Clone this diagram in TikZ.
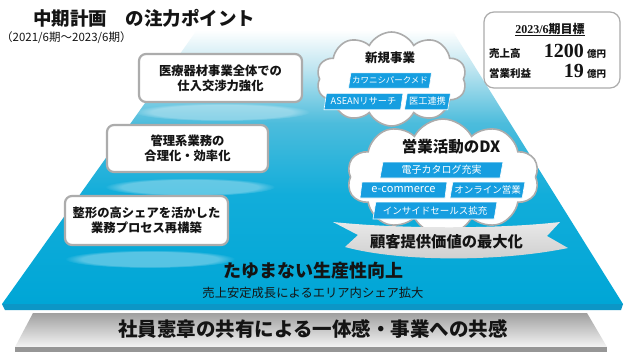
\documentclass[tikz,border=0pt]{standalone}
\usepackage{fontspec}
\setmainfont{Noto Sans CJK JP}
\newfontfamily\serifnum{Liberation Serif}
\usetikzlibrary{shapes.geometric,shapes.symbols,fadings}
\definecolor{labblue}{RGB}{22,158,224}
\definecolor{boxgray}{RGB}{172,172,172}
\definecolor{txt}{RGB}{20,20,20}
\definecolor{c0}{RGB}{0,166,214}
\definecolor{c1}{RGB}{18,173,218}
\definecolor{c2}{RGB}{76,188,220}
\definecolor{c3}{RGB}{191,229,240}
\definecolor{c4}{RGB}{12,150,198}
\definecolor{g0}{RGB}{160,160,160}
\definecolor{g1}{RGB}{212,212,212}
\definecolor{g2}{RGB}{244,244,244}
\definecolor{g3}{RGB}{150,150,150}
\definecolor{rib1}{RGB}{232,232,232}
\definecolor{rib2}{RGB}{206,206,206}
\pgfdeclareverticalshading{pyr}{100bp}{color(0bp)=(c0); color(25bp)=(c0); color(45bp)=(c1); color(58bp)=(c2); color(68bp)=(c3); color(75bp)=(white); color(100bp)=(white)}
\begin{document}
\begin{tikzpicture}[x=1pt,y=-1pt,
  box/.style={draw=boxgray, line width=2.2pt, rounded corners=7pt, fill=white,
    font=\bfseries\fontsize{12.3}{15}\selectfont, align=center, text=txt, inner sep=0pt},
  lab/.style={trapezium, trapezium left angle=72, trapezium right angle=108,
    trapezium stretches body, fill=labblue, draw=white, line width=0.6pt,
    text=white, inner sep=0pt, minimum height=15.5pt},
  cloudbox/.style={cloud, cloud puffs=10, cloud puff arc=125, aspect=1.6,
    cloud ignores aspect, draw=boxgray, line width=1.6pt, fill=white, inner sep=0pt},
  shadowband/.style={fill=white, opacity=0.32, path fading=circle with fuzzy edge 20 percent}
]
\useasboundingbox (0,0) rectangle (624,357);
\fill[white] (0,0) rectangle (624,357);
% gray base slab
\shade[top color=g0, middle color=g1, bottom color=g2] (33,313) -- (587,313) -- (607,347) -- (15,347) -- cycle;
\fill[g3] (15,347) -- (607,347) -- (607,352) -- (15,352) -- cycle;
% blue pyramid
\shade[shading=pyr] (197,30) -- (452,30) -- (623,304) -- (2,304) -- cycle;
\fill[c4] (2,304) -- (623,304) -- (621,310) -- (5,310) -- cycle;
% soft bands
\fill[shadowband] (222,112) ellipse [x radius=88, y radius=9];
\fill[shadowband] (190,187) ellipse [x radius=85, y radius=9];
\fill[shadowband] (150,259) ellipse [x radius=85, y radius=9];
% title
\node[anchor=base west, font=\bfseries\fontsize{18.5}{20}\selectfont, text=txt, inner sep=0pt] (title) at (33,25) {中期計画　の注力ポイント};
\node[anchor=base west, font=\fontsize{11.5}{12}\selectfont, text=txt, inner sep=0pt] (sub) at (1,41) {（2021/6期～2023/6期）};
% target box
\node[draw=boxgray, line width=1.2pt, rounded corners=10pt, fill=white, minimum width=136pt, minimum height=76pt] (tbox) at (552,50) {};
\node[anchor=base, font=\bfseries\fontsize{12}{12}\selectfont, text=txt, inner sep=0pt] (tg) at (550,33) {\underline{{\serifnum 2023/6}期目標}};
\node[anchor=base west, font=\bfseries\fontsize{10.5}{12}\selectfont, text=txt, inner sep=0pt] (r1) at (489,57) {売上高};
\node[anchor=base east, font=\serifnum\bfseries\fontsize{20}{20}\selectfont, text=txt, inner sep=0pt] (v1) at (584,57) {1200};
\node[anchor=base west, font=\bfseries\fontsize{9.5}{10}\selectfont, text=txt, inner sep=0pt] (u1) at (587,57) {億円};
\node[anchor=base west, font=\bfseries\fontsize{10.5}{12}\selectfont, text=txt, inner sep=0pt] (r2) at (489,77) {営業利益};
\node[anchor=base east, font=\serifnum\bfseries\fontsize{20}{20}\selectfont, text=txt, inner sep=0pt] (v2) at (584,77) {19};
\node[anchor=base west, font=\bfseries\fontsize{9.5}{10}\selectfont, text=txt, inner sep=0pt] (u2) at (587,77) {億円};
% left boxes
\node[box, minimum width=163pt, minimum height=48pt] (b1) at (220.5,78) {医療器材事業全体での\\仕入交渉力強化};
\node[box, minimum width=161pt, minimum height=47pt] (b2) at (187.5,148.5) {管理系業務の\\合理化・効率化};
\node[box, minimum width=163pt, minimum height=49pt] (b3) at (146.5,220.5) {整形の高シェアを活かした\\業務プロセス再構築};
% clouds
\node[cloudbox, minimum width=150pt, minimum height=94pt] (cl1) at (391.5,79) {};
\node[cloudbox, minimum width=192pt, minimum height=116pt] (cl2) at (443,177) {};
\node[font=\bfseries\fontsize{12.5}{13}\selectfont, text=txt] (cl1t) at (390,58) {新規事業};
\node[font=\bfseries\fontsize{15.5}{16}\selectfont, text=txt] (cl2t) at (451,147) {営業活動のDX};
\node[lab, minimum width=83pt, font=\fontsize{8.5}{9}\selectfont] (l1) at (390,80.5) {カワニシパークメド};
\node[lab, minimum width=79pt, minimum height=16.5pt, font=\fontsize{9.2}{9}\selectfont] (l2) at (363.5,101.5) {ASEANリサーチ};
\node[lab, minimum width=46pt, minimum height=16.5pt, font=\fontsize{9.2}{9}\selectfont] (l3) at (427.5,101.5) {医工連携};
\node[lab, minimum width=123pt, minimum height=16pt, font=\fontsize{10}{10}\selectfont] (m1) at (441.5,170) {電子カタログ充実};
\node[lab, minimum width=87pt, minimum height=16pt, font=\fontsize{11}{10}\selectfont] (m2) at (403.5,190) {e-commerce};
\node[lab, minimum width=75pt, minimum height=16pt, font=\fontsize{9.5}{10}\selectfont] (m3) at (487.5,190) {オンライン営業};
\node[lab, minimum width=124pt, minimum height=17pt, font=\fontsize{9.5}{10}\selectfont] (m4) at (435,210.5) {インサイドセールス拡充};
% ribbon
\shade[top color=rib1, bottom color=rib2] (333,222) .. controls (400,229) and (500,229) .. (560,222) -- (547,236) -- (568,248) .. controls (500,262) and (400,262) .. (345,247) -- (358,235) -- cycle;
\node[font=\bfseries\fontsize{15.3}{16}\selectfont, text=txt] (rt) at (446.5,242) {顧客提供価値の最大化};
% pyramid texts
\node[font=\bfseries\fontsize{18}{18}\selectfont, text=txt] (p1) at (313,271) {たゆまない生産性向上};
\node[font=\fontsize{12.3}{13}\selectfont, text=txt] (p2) at (313,293) {売上安定成長によるエリア内シェア拡大};
\node[font=\bfseries\fontsize{19.5}{20}\selectfont, text=txt] (g) at (313,329) {社員憲章の共有による一体感・事業への共感};
\end{tikzpicture}
\end{document}
